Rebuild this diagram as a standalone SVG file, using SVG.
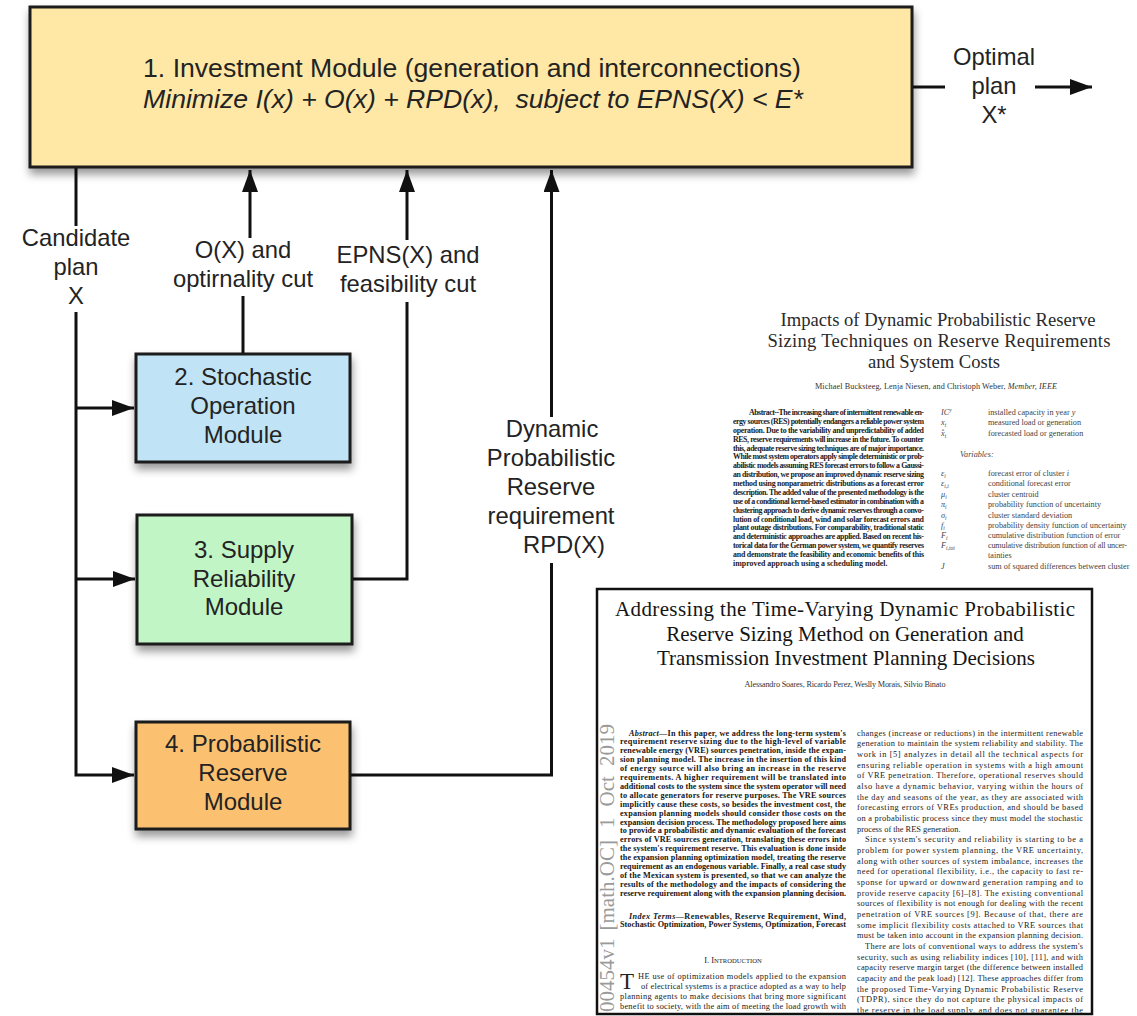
<svg xmlns="http://www.w3.org/2000/svg" width="1137" height="1016" viewBox="0 0 1137 1016">
<defs>
  <marker id="arrow" markerUnits="userSpaceOnUse" markerWidth="24" markerHeight="16" refX="22" refY="8" orient="auto">
    <path d="M0,0 L22,8 L0,16 z" fill="#111"/>
  </marker>
  <filter id="shadow" x="-10%" y="-10%" width="125%" height="140%">
    <feDropShadow dx="1" dy="6" stdDeviation="4" flood-color="#000" flood-opacity="0.4"/>
  </filter>
  <clipPath id="pageClip"><rect x="598.5" y="590.5" width="492" height="422"/></clipPath>
</defs>
<style>
  .box { stroke:#1b1b1b; stroke-width:3; }
  .sans { font-family:"Liberation Sans", Arial, sans-serif; fill:#232323; text-anchor:middle; }
  .lbl { font-size:23.8px; }
  .mod { font-size:24px; }
  .head { font-size:26.6px; }
  .wire { fill:none; stroke:#111; stroke-width:3; }
  .serif { font-family:"Liberation Serif", "Times New Roman", serif; }
  .ttl { font-size:18.6px; fill:#2a2a2a; text-anchor:middle; }
  .ttl2 { font-size:21px; fill:#151515; text-anchor:middle; }
  .auth { font-size:8.2px; fill:#333; text-anchor:middle; }
  .abs1 { font-size:7.9px; font-weight:bold; fill:#1c1c1c; }
  .sym { font-size:8.2px; font-style:italic; fill:#444; }
  .desc { font-size:8.2px; fill:#444; }
  .abs2 { font-size:8.2px; font-weight:bold; fill:#161616; }
  .body { font-size:8.4px; fill:#222; }
  .stamp { font-size:21px; fill:#9a9a9a; }
</style>

<rect width="1137" height="1016" fill="#fff"/>

<!-- wires between the modules -->
<g id="connectors">
  <path class="wire" d="M76 167 V226"/>
  <path class="wire" d="M76 312 V775 H134" marker-end="url(#arrow)"/>
  <path class="wire" d="M76 408 H134" marker-end="url(#arrow)"/>
  <path class="wire" d="M76 579 H135" marker-end="url(#arrow)"/>
  <path class="wire" d="M243 354 V296"/>
  <path class="wire" d="M250 238 V170" marker-end="url(#arrow)"/>
  <path class="wire" d="M352 579 H407 V302"/>
  <path class="wire" d="M407 240 V170" marker-end="url(#arrow)"/>
  <path class="wire" d="M350 775 H551.5 V563"/>
  <path class="wire" d="M551.5 417 V170" marker-end="url(#arrow)"/>
  <path class="wire" d="M912 87 H945"/>
  <path class="wire" d="M1035 87 H1092" marker-end="url(#arrow)"/>
</g>

<!-- connector labels -->
<g id="labels" class="sans lbl">
  <text x="76" y="246">Candidate</text>
  <text x="76" y="275">plan</text>
  <text x="76" y="304">X</text>
  <text x="243" y="258">O(X) and</text>
  <text x="243" y="287">optirnality cut</text>
  <text x="408" y="263">EPNS(X) and</text>
  <text x="408" y="292">feasibility cut</text>
  <text x="552" y="437">Dynamic</text>
  <text x="551" y="466">Probabilistic</text>
  <text x="551" y="495">Reserve</text>
  <text x="551" y="524">requirement</text>
  <text x="564" y="553">RPD(X)</text>
  <text x="994" y="65">Optimal</text>
  <text x="994" y="94">plan</text>
  <text x="994" y="123">X*</text>
</g>

<g id="investment-module">
  <rect class="box" x="30" y="7" width="882" height="160" fill="#FFE8A6" filter="url(#shadow)"/>
  <text class="sans head" x="472" y="77">1. Investment Module (generation and interconnections)</text>
  <text class="sans head" x="473" y="108" font-style="italic">Minimize I(x) + O(x) + RPD(x), &#160;subject to EPNS(X) &lt; E*</text>
</g>

<g id="stochastic-operation-module">
  <rect class="box" x="136" y="354" width="214" height="108" fill="#C0E4F6" filter="url(#shadow)"/>
  <text class="sans mod" x="243" y="385">2. Stochastic</text>
  <text class="sans mod" x="243" y="414">Operation</text>
  <text class="sans mod" x="243" y="443">Module</text>
</g>

<g id="supply-reliability-module">
  <rect class="box" x="137" y="515" width="215" height="129" fill="#C1F5C6" filter="url(#shadow)"/>
  <text class="sans mod" x="244" y="558">3. Supply</text>
  <text class="sans mod" x="244" y="587">Reliability</text>
  <text class="sans mod" x="244" y="615">Module</text>
</g>

<g id="probabilistic-reserve-module">
  <rect class="box" x="136" y="722" width="214" height="107" fill="#FCC170" filter="url(#shadow)"/>
  <text class="sans mod" x="243" y="752">4. Probabilistic</text>
  <text class="sans mod" x="243" y="781">Reserve</text>
  <text class="sans mod" x="243" y="810">Module</text>
</g>

<!-- first paper page excerpt -->
<g id="paper-bucksteeg" class="serif">
  <text class="ttl" x="938" y="326" textLength="315">Impacts of Dynamic Probabilistic Reserve</text>
  <text class="ttl" x="939" y="347" textLength="343">Sizing Techniques on Reserve Requirements</text>
  <text class="ttl" x="934" y="368">and System Costs</text>
  <text class="auth" x="936" y="389" textLength="242">Michael Bucksteeg, Lenja Niesen, and Christoph Weber, <tspan font-style="italic">Member, IEEE</tspan></text>

  <g class="abs1">
    <text x="749" y="415" textLength="175">Abstract--The increasing share of intermittent renewable en-</text>
    <text x="733" y="423.9" textLength="191">ergy sources (RES) potentially endangers a reliable power system</text>
    <text x="733" y="432.8" textLength="191">operation. Due to the variability and unpredictability of added</text>
    <text x="733" y="441.6" textLength="191">RES, reserve requirements will increase in the future. To counter</text>
    <text x="733" y="450.5" textLength="191">this, adequate reserve sizing techniques are of major importance.</text>
    <text x="733" y="459.4" textLength="191">While most system operators apply simple deterministic or prob-</text>
    <text x="733" y="468.3" textLength="191">abilistic models assuming RES forecast errors to follow a Gaussi-</text>
    <text x="733" y="477.2" textLength="191">an distribution, we propose an improved dynamic reserve sizing</text>
    <text x="733" y="486" textLength="191">method using nonparametric distributions as a forecast error</text>
    <text x="733" y="494.9" textLength="191">description. The added value of the presented methodology is the</text>
    <text x="733" y="503.8" textLength="191">use of a conditional kernel-based estimator in combination with a</text>
    <text x="733" y="512.7" textLength="191">clustering approach to derive dynamic reserves through a convo-</text>
    <text x="733" y="521.6" textLength="191">lution of conditional load, wind and solar forecast errors and</text>
    <text x="733" y="530.4" textLength="191">plant outage distributions. For comparability, traditional static</text>
    <text x="733" y="539.3" textLength="191">and deterministic approaches are applied. Based on recent his-</text>
    <text x="733" y="548.2" textLength="191">torical data for the German power system, we quantify reserves</text>
    <text x="733" y="557.1" textLength="191">and demonstrate the feasibility and economic benefits of this</text>
    <text x="733" y="566">improved approach using a scheduling model.</text>
  </g>

  <g class="sym">
    <text x="941" y="415">IC<tspan dy="-3" font-size="5.5">y</tspan></text>
    <text x="941" y="425">x<tspan dy="2" font-size="5.5">t</tspan></text>
    <text x="941" y="435.5">x̂<tspan dy="2" font-size="5.5">t</tspan></text>
    <text x="960" y="457.4">Variables:</text>
    <text x="941" y="476.1">ε<tspan dy="2" font-size="5.5">i</tspan></text>
    <text x="941" y="486.2">ε<tspan dy="2" font-size="5.5">i,t</tspan></text>
    <text x="941" y="496.6">μ<tspan dy="2" font-size="5.5">i</tspan></text>
    <text x="941" y="507">π<tspan dy="2" font-size="5.5">i</tspan></text>
    <text x="941" y="517.5">σ<tspan dy="2" font-size="5.5">i</tspan></text>
    <text x="941" y="527.5">f<tspan dy="2" font-size="5.5">i</tspan></text>
    <text x="941" y="537.9">F<tspan dy="2" font-size="5.5">i</tspan></text>
    <text x="941" y="548">F<tspan dy="2" font-size="5.5">i,tot</tspan></text>
    <text x="941" y="568.5">J</text>
  </g>
  <g class="desc">
    <text x="988" y="415">installed capacity in year <tspan font-style="italic">y</tspan></text>
    <text x="988" y="425">measured load or generation</text>
    <text x="988" y="435.5">forecasted load or generation</text>
    <text x="988" y="476.1">forecast error of cluster <tspan font-style="italic">i</tspan></text>
    <text x="988" y="486.2">conditional forecast error</text>
    <text x="988" y="496.6">cluster centroid</text>
    <text x="988" y="507">probability function of uncertainty</text>
    <text x="988" y="517.5">cluster standard deviation</text>
    <text x="988" y="527.5">probability density function of uncertainty</text>
    <text x="988" y="537.9">cumulative distribution function of error</text>
    <text x="988" y="548" textLength="139">cumulative distribution function of all uncer-</text>
    <text x="988" y="557.7">tainties</text>
    <text x="988" y="568.5">sum of squared differences between cluster</text>
  </g>
</g>

<!-- second paper page excerpt -->
<g id="paper-soares" class="serif">
  <rect x="597" y="589" width="495" height="425" fill="#fff" stroke="#111" stroke-width="2.5"/>
  <g clip-path="url(#pageClip)">
    <!-- arXiv side stamp, read bottom to top -->
    <text class="stamp" transform="translate(614,1012) rotate(-90)"><tspan x="0">00454v1</tspan><tspan x="81.5">[math.OC]</tspan><tspan x="184">1</tspan><tspan x="205.5">Oct</tspan><tspan x="246">2019</tspan></text>

    <text class="ttl2" x="845" y="616" textLength="460">Addressing the Time-Varying Dynamic Probabilistic</text>
    <text class="ttl2" x="845" y="641">Reserve Sizing Method on Generation and</text>
    <text class="ttl2" x="846" y="665" textLength="378">Transmission Investment Planning Decisions</text>
    <text class="auth" x="845" y="687" textLength="201">Alessandro Soares, Ricardo Perez, Weslly Morais, Silvio Binato</text>

    <g class="abs2">
      <text x="629" y="735.5" textLength="217"><tspan font-style="italic">Abstract</tspan>—In this paper, we address the long-term system's</text>
      <text x="620" y="744.4" textLength="226">requirement reserve sizing due to the high-level of variable</text>
      <text x="620" y="753.3" textLength="226">renewable energy (VRE) sources penetration, inside the expan-</text>
      <text x="620" y="762.2" textLength="226">sion planning model. The increase in the insertion of this kind</text>
      <text x="620" y="771.1" textLength="226">of energy source will also bring an increase in the reserve</text>
      <text x="620" y="780" textLength="226">requirements. A higher requirement will be translated into</text>
      <text x="620" y="788.9" textLength="226">additional costs to the system since the system operator will need</text>
      <text x="620" y="797.8" textLength="226">to allocate generators for reserve purposes. The VRE sources</text>
      <text x="620" y="806.7" textLength="226">implicitly cause these costs, so besides the investment cost, the</text>
      <text x="620" y="815.6" textLength="226">expansion planning models should consider those costs on the</text>
      <text x="620" y="824.5" textLength="226">expansion decision process. The methodology proposed here aims</text>
      <text x="620" y="833.4" textLength="226">to provide a probabilistic and dynamic evaluation of the forecast</text>
      <text x="620" y="842.3" textLength="226">errors of VRE sources generation, translating these errors into</text>
      <text x="620" y="851.2" textLength="226">the system's requirement reserve. This evaluation is done inside</text>
      <text x="620" y="860.1" textLength="226">the expansion planning optimization model, treating the reserve</text>
      <text x="620" y="869" textLength="226">requirement as an endogenous variable. Finally, a real case study</text>
      <text x="620" y="877.9" textLength="226">of the Mexican system is presented, so that we can analyze the</text>
      <text x="620" y="886.8" textLength="226">results of the methodology and the impacts of considering the</text>
      <text x="620" y="895.7" textLength="226">reserve requirement along with the expansion planning decision.</text>
      <text x="629" y="918.7" textLength="217"><tspan font-style="italic">Index Terms</tspan>—Renewables, Reserve Requirement, Wind,</text>
      <text x="620" y="927.3" textLength="226">Stochastic Optimization, Power Systems, Optimization, Forecast</text>
    </g>

    <g class="body">
      <text x="733" y="963" text-anchor="middle">I. I<tspan font-size="6.6">NTRODUCTION</tspan></text>
      <text x="620" y="988.7" font-size="23">T</text>
      <text x="638" y="978.7" textLength="208">HE use of optimization models applied to the expansion</text>
      <text x="641" y="988.7" textLength="205">of electrical systems is a practice adopted as a way to help</text>
      <text x="620" y="998.7" textLength="226">planning agents to make decisions that bring more significant</text>
      <text x="620" y="1008.7" textLength="226">benefit to society, with the aim of meeting the load growth with</text>

      <text x="857" y="735.5" textLength="226">changes (increase or reductions) in the intermittent renewable</text>
      <text x="857" y="746.2" textLength="226">generation to maintain the system reliability and stability. The</text>
      <text x="857" y="756.8" textLength="226">work in [5] analyzes in detail all the technical aspects for</text>
      <text x="857" y="767.5" textLength="226">ensuring reliable operation in systems with a high amount</text>
      <text x="857" y="778.2" textLength="226">of VRE penetration. Therefore, operational reserves should</text>
      <text x="857" y="788.9" textLength="226">also have a dynamic behavior, varying within the hours of</text>
      <text x="857" y="799.5" textLength="226">the day and seasons of the year, as they are associated with</text>
      <text x="857" y="810.2" textLength="226">forecasting errors of VREs production, and should be based</text>
      <text x="857" y="820.9" textLength="226">on a probabilistic process since they must model the stochastic</text>
      <text x="857" y="831.5">process of the RES generation.</text>
      <text x="865" y="842.2" textLength="218">Since system's security and reliability is starting to be a</text>
      <text x="857" y="852.9" textLength="226">problem for power system planning, the VRE uncertainty,</text>
      <text x="857" y="863.5" textLength="226">along with other sources of system imbalance, increases the</text>
      <text x="857" y="874.2" textLength="226">need for operational flexibility, i.e., the capacity to fast re-</text>
      <text x="857" y="884.9" textLength="226">sponse for upward or downward generation ramping and to</text>
      <text x="857" y="895.5" textLength="226">provide reserve capacity [6]–[8]. The existing conventional</text>
      <text x="857" y="906.2" textLength="226">sources of flexibility is not enough for dealing with the recent</text>
      <text x="857" y="916.9" textLength="226">penetration of VRE sources [9]. Because of that, there are</text>
      <text x="857" y="927.6" textLength="226">some implicit flexibility costs attached to VRE sources that</text>
      <text x="857" y="938.2" textLength="226">must be taken into account in the expansion planning decision.</text>
      <text x="865" y="948.9" textLength="218">There are lots of conventional ways to address the system's</text>
      <text x="857" y="959.6" textLength="226">security, such as using reliability indices [10], [11], and with</text>
      <text x="857" y="970.2" textLength="226">capacity reserve margin target (the difference between installed</text>
      <text x="857" y="980.9" textLength="226">capacity and the peak load) [12]. These approaches differ from</text>
      <text x="857" y="991.6" textLength="226">the proposed Time-Varying Dynamic Probabilistic Reserve</text>
      <text x="857" y="1002.2" textLength="226">(TDPR), since they do not capture the physical impacts of</text>
      <text x="857" y="1012.9" textLength="226">the reserve in the load supply, and does not guarantee the</text>
    </g>
  </g>
</g>
</svg>
